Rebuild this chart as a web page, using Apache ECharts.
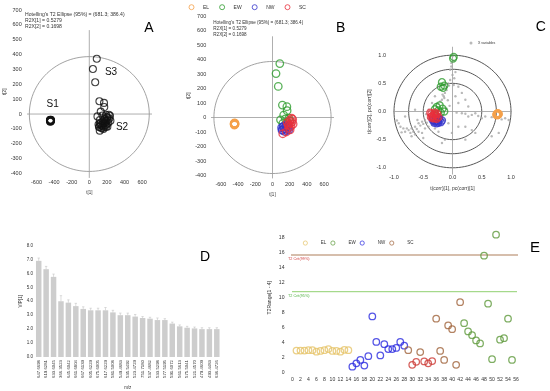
<!DOCTYPE html>
<html><head><meta charset="utf-8">
<script src="https://cdn.jsdelivr.net/npm/echarts@6/dist/echarts.min.js"></script>
<style>html,body{margin:0;padding:0;background:#fff}#c{width:550px;height:391px}</style>
</head><body><div id="c"></div><script>
// ---------- DATA ----------
const groups = ['EL', 'EW', 'NW', 'SC'];
// Panel A/B : PCA scores t[1], t[2]
const scoresEL = [[-445,-48],[-440,-42],[-436,-46],[-442,-40],[-447,-44],[-438,-50],[-443,-38],[-435,-43],[-441,-47],[-446,-41],[-439,-45],[-444,-52],[-437,-39],[-442,-44]];
const scoresEW = [[85,372],[41,303],[67,214],[115,86],[167,75],[170,47],[130,16],[93,-16],[175,-35],[150,-10],[205,-25],[120,-40],[190,-5]];
const scoresNW = [[105,-70],[115,-85],[130,-60],[150,-80],[165,-90],[180,-75],[140,-95],[120,-65],[160,-65],[175,-60],[190,-85],[135,-75],[155,-55],[110,-88]];
const scoresSC = [[222,-5],[235,-12],[200,-20],[210,-40],[190,-45],[228,-30],[182,-55],[215,-60],[195,-70],[170,-35],[240,-45],[205,-85],[119,-112],[160,-100]];
const hotellingT2 = [681.3, 386.4];
const r2x = [0.5279, 0.1698];
// Panel C : correlation-scaled biplot
const corrEL = [[0.77,-0.05],[0.76,-0.04],[0.78,-0.06],[0.77,-0.03],[0.75,-0.05],[0.79,-0.05],[0.76,-0.07],[0.78,-0.04],[0.77,-0.06],[0.76,-0.05],[0.78,-0.05],[0.77,-0.04],[0.75,-0.06],[0.79,-0.04]];
const corrEW = [[0.02,0.97],[0.01,0.94],[-0.18,0.52],[-0.2,0.44],[-0.14,0.46],[-0.16,0.42],[-0.27,0.08],[-0.22,0.11],[-0.17,0.05],[-0.24,0.02],[-0.14,0.0],[-0.2,-0.02],[-0.3,0.04]];
const corrNW = [[-0.3,-0.18],[-0.26,-0.17],[-0.22,-0.15],[-0.32,-0.16],[-0.2,-0.19],[-0.28,-0.14],[-0.24,-0.2],[-0.34,-0.15],[-0.27,-0.21],[-0.18,-0.16],[-0.31,-0.2],[-0.23,-0.12],[-0.29,-0.17],[-0.25,-0.18]];
const corrSC = [[-0.38,-0.02],[-0.35,-0.08],[-0.32,-0.05],[-0.3,-0.12],[-0.28,-0.08],[-0.34,-0.12],[-0.26,-0.04],[-0.36,-0.04],[-0.3,-0.02],[-0.24,-0.1],[-0.33,-0.09],[-0.29,-0.05],[-0.37,-0.1],[-0.27,-0.13]];
const xVariables = [[0.00,0.98],[-0.02,0.86],[-0.04,0.74],[0.00,0.65],[0.03,0.59],[-0.04,0.56],[-0.07,0.50],[0.02,0.47],[-0.10,0.43],[-0.06,0.46],[-0.10,0.38],[-0.13,0.33],[-0.15,0.27],[-0.18,0.21],[-0.14,0.24],[-0.21,0.18],[-0.24,0.14],[-0.17,0.30],[-0.35,-0.06],[-0.41,-0.12],[-0.47,-0.15],[-0.52,-0.18],[-0.58,-0.21],[-0.64,-0.27],[-0.70,-0.30],[-0.75,-0.33],[-0.81,-0.36],[-0.87,-0.37],[-0.67,-0.36],[-0.72,-0.38],[-0.78,-0.30],[-0.61,-0.31],[-0.55,-0.25],[-0.50,-0.22],[-0.44,-0.20],[-0.84,-0.30],[-0.89,-0.27],[-0.92,-0.21],[-0.95,-0.16],[-0.58,-0.36],[-0.64,-0.41],[-0.52,-0.38],[-0.47,-0.30],[-0.41,-0.27],[-0.35,-0.24],[-0.30,-0.30],[-0.24,-0.36],[-0.50,-0.47],[-0.70,-0.44],[0.07,-0.02],[0.16,-0.03],[0.22,-0.04],[0.33,-0.06],[0.44,-0.08],[0.56,-0.09],[0.67,-0.10],[0.79,-0.11],[0.90,-0.12],[0.96,-0.15],[0.84,-0.14],[0.73,-0.06],[0.50,-0.12],[0.39,-0.03],[0.27,-0.09],[0.22,0.21],[0.16,0.33],[0.27,0.09],[0.10,0.15],[-0.13,-0.50],[-0.01,-0.38],[0.10,-0.27],[0.22,-0.50],[0.39,-0.38],[-0.35,0.15],[-0.30,0.27],[-0.41,0.03],[-0.64,0.03],[-0.81,-0.09],[0.10,0.44],[0.05,0.27],[-0.13,-0.15],[-0.18,-0.09],[-0.07,-0.21],[0.22,-0.27],[0.33,-0.33],[-0.18,-0.56],[0.67,-0.44],[0.79,-0.38],[-0.05,0.10],[-0.10,0.05],[-0.08,0.20],[0.05,0.70],[-0.02,0.80],[0.02,0.90],[-0.25,0.00],[-0.30,-0.10],[-0.45,-0.05],[-0.60,-0.15]];
const corrCircles = [1.0, 0.75, 0.5];
// Panel D : VIP
const vipLabels = ['647.6698','619.6281','633.6045','366.3523','645.6042','661.6804','667.6139','605.6229','675.6005','617.6229','581.5008','549.4683','535.5492','523.4729','751.7180','537.4682','533.5298','577.5195','591.6072','561.5613','575.5041','521.4570','479.4609','493.4483','636.4726'];
const vipValues = [6.9,6.3,5.75,4.0,3.9,3.65,3.45,3.35,3.35,3.35,3.2,3.0,3.0,2.9,2.8,2.75,2.65,2.65,2.4,2.2,2.1,2.05,2.0,2.0,2.0];
const vipErrors = [0.2,0.2,0.2,0.4,0.2,0.2,0.15,0.15,0.15,0.2,0.15,0.15,0.15,0.15,0.1,0.1,0.15,0.1,0.1,0.1,0.1,0.1,0.1,0.1,0.1];
// Panel E : T2Range[1 - 4] per observation
const t2ELObs = [1,2,3,4,5,6,7,8,9,10,11,12,13,14];
const t2EL = [2.95,2.95,2.95,3.0,3.0,2.8,2.9,3.0,3.15,2.9,2.9,2.8,3.05,3.0];
const t2NWObs = [15,16,17,18,19,20,21,22,23,24,25,26,27,28];
const t2NW = [0.8,1.25,1.7,0.95,2.2,7.5,4.1,2.3,3.8,3.15,3.15,3.3,4.1,3.6];
const t2SCObs = [29,30,31,32,33,34,35,36,37,38,39,40,41,42];
const t2SC = [3.0,1.05,1.45,2.75,1.5,1.25,1.55,7.2,2.9,1.7,6.3,5.8,1.05,9.4];
const scRedObs = [30,31,33,34,35];
const t2EWObs = [43,44,45,46,47,48,49,50,51,52,53,54,55];
const t2EW = [6.6,5.5,5.0,4.3,3.9,15.6,9.2,1.8,18.4,4.4,4.6,7.2,1.7];
const t2Crit99 = 15.7, t2Crit95 = 10.8;
const xTicksA = [-600,-400,-200,0,200,400,600];

// ---------- STYLE ----------
const FONT = 'Liberation Sans, Arial, sans-serif';
const colB = {EL:'#f5a04a', EW:'#2f9e2f', NW:'#3535cc', SC:'#e8303c'};
const colE = {EL:'#e6c46a', EW:'#5f9a3c', NW:'#2a2ae0', SC:'#a0643c'};
const scRed = '#cc3a34';
const hollow = (c, bw) => ({color:'rgba(0,0,0,0)', borderColor:c, borderWidth:bw});
const lbl = (size, extra) => Object.assign({fontSize:size, color:'#333', fontFamily:FONT}, extra||{});
const noLine = {axisLine:{show:false}, axisTick:{show:false}, splitLine:{show:false}};

function ellipseRender(rx, ry, stroke, lw) {
  return function (params, api) {
    const c = api.coord([api.value(0), api.value(1)]);
    const s = api.size([rx, ry]);
    const pts = [];
    for (let i = 0; i <= 120; i++) {
      const a = i / 120 * 2 * Math.PI;
      pts.push([c[0] + s[0] * Math.cos(a), c[1] + s[1] * Math.sin(a)]);
    }
    return {type:'polyline', shape:{points:pts}, style:{fill:null, stroke:stroke, lineWidth:lw}, silent:true};
  };
}
function crossLine(data, xi, color, w) {
  return {type:'line', xAxisIndex:xi, yAxisIndex:xi, data:data, symbol:'none', clip:false, silent:true,
          lineStyle:{color:color, width:w}, z:1};
}
const dataSets = {EL:scoresEL, EW:scoresEW, NW:scoresNW, SC:scoresSC};
const corrSets = {EL:corrEL, EW:corrEW, NW:corrNW, SC:corrSC};
const t2Sets = {EL:[t2ELObs,t2EL], EW:[t2EWObs,t2EW], NW:[t2NWObs,t2NW], SC:[t2SCObs,t2SC]};

const series = [];
// ---- A ----
series.push({type:'custom', xAxisIndex:0, yAxisIndex:0, data:[[0,0]], renderItem:ellipseRender(hotellingT2[0], hotellingT2[1], '#8a8a8a', 0.8), z:1});
series.push(crossLine([[-790,0],[770,0]], 0, '#9a9a9a', 0.8));
series.push(crossLine([[0,-430],[0,565]], 0, '#9a9a9a', 0.8));
series.push({type:'scatter', xAxisIndex:0, yAxisIndex:0, symbol:'circle', symbolSize:7,
  itemStyle:hollow('#111', 1.1), data:[].concat(scoresEL, scoresEW, scoresNW, scoresSC), z:3});
// ---- B ----
series.push({type:'custom', xAxisIndex:1, yAxisIndex:1, data:[[0,0]], renderItem:ellipseRender(hotellingT2[0], hotellingT2[1], '#8a8a8a', 0.8), z:1});
series.push(crossLine([[-790,0],[740,0]], 1, '#9a9a9a', 0.8));
series.push(crossLine([[0,-420],[0,560]], 1, '#9a9a9a', 0.8));
groups.forEach(g => series.push({name:g, type:'scatter', xAxisIndex:1, yAxisIndex:1, symbol:'circle', symbolSize:7.5,
  itemStyle:hollow(colB[g], 1.3), data:dataSets[g], z:3}));
// ---- C ----
corrCircles.forEach(r => series.push({type:'custom', xAxisIndex:2, yAxisIndex:2, data:[[0,0]], renderItem:ellipseRender(r, r, '#444', 0.9), z:1}));
series.push(crossLine([[-1.07,0],[1.09,0]], 2, '#9a9a9a', 0.8));
series.push(crossLine([[0,-1.12],[0,1.15]], 2, '#9a9a9a', 0.8));
series.push({name:'X variables', type:'scatter', xAxisIndex:2, yAxisIndex:2, symbol:'circle', symbolSize:2.4,
  itemStyle:{color:'#a8a8a8'}, data:xVariables, z:2});
groups.forEach(g => series.push({name:g, type:'scatter', xAxisIndex:2, yAxisIndex:2, symbol:'circle', symbolSize:7,
  itemStyle:hollow(colB[g], 1.3), data:corrSets[g], z:3}));
// ---- D ----
series.push({type:'bar', xAxisIndex:3, yAxisIndex:3, data:vipValues, barCategoryGap:'26%',
  itemStyle:{color:'#cdcdcd'}, silent:true});
series.push({type:'custom', xAxisIndex:3, yAxisIndex:3, data:vipValues.map((v,i)=>[i, v, vipErrors[i]]), z:3,
  renderItem:function(params, api){
    const p0 = api.coord([api.value(0), api.value(1)]);
    const p1 = api.coord([api.value(0), api.value(1) + api.value(2)]);
    return {type:'group', children:[
      {type:'line', shape:{x1:p0[0], y1:p0[1], x2:p1[0], y2:p1[1]}, style:{stroke:'#c4c4c4', lineWidth:0.6}},
      {type:'line', shape:{x1:p1[0]-1.2, y1:p1[1], x2:p1[0]+1.2, y2:p1[1]}, style:{stroke:'#c4c4c4', lineWidth:0.6}}
    ]};
  }});
// ---- E ----
series.push(crossLine([[-2,t2Crit99],[57.5,t2Crit99]], 4, '#c9a891', 1.6));
series.push(crossLine([[-2,t2Crit95],[57.5,t2Crit95]], 4, '#90d070', 1.0));
groups.forEach(g => {
  const [obs, vals] = t2Sets[g];
  series.push({name:g, type:'scatter', xAxisIndex:4, yAxisIndex:4, symbol:'circle', symbolSize:6.5,
    itemStyle:hollow(colE[g], 1.3),
    data:obs.map((o,i)=> (g==='SC' && scRedObs.indexOf(o)>=0)
      ? {value:[o, vals[i]], itemStyle:hollow(scRed, 1.3)} : [o, vals[i]]), z:3});
});

const legendItem = (cols, g, bw) => ({name:g, itemStyle:hollow(cols[g], bw)});
const hotText = "Hotelling's T2 Ellipse (95%) = (" + hotellingT2[0] + "; " + hotellingT2[1] + ")";

const option = {
  animation:false,
  textStyle:{fontFamily:FONT},
  grid:[
    {left:27.7, top:10.05, width:123.2, height:163.4},
    {left:212.3, top:16, width:120.4, height:159.5},
    {left:394, top:55.2, width:117, height:112.6},
    {left:35, top:245.5, width:185.5, height:112.8},
    {left:292.5, top:222.7, width:223.5, height:150}
  ],
  xAxis:[
    Object.assign({gridIndex:0, type:'value', min:-700, max:700, interval:100, name:'t[1]', nameLocation:'middle', nameGap:17, nameTextStyle:lbl(4.5),
      axisLabel:lbl(5.5, {margin:6, formatter:v => xTicksA.indexOf(v)>=0 ? String(v) : ''})}, noLine),
    Object.assign({gridIndex:1, type:'value', min:-700, max:700, interval:100, name:'t[1]', nameLocation:'middle', nameGap:17, nameTextStyle:lbl(4.5),
      axisLabel:lbl(5.5, {margin:6, formatter:v => xTicksA.indexOf(v)>=0 ? String(v) : ''})}, noLine),
    Object.assign({gridIndex:2, type:'value', min:-1, max:1, interval:0.5, name:'t(corr)[1], pc(corr)[1]', nameLocation:'middle', nameGap:18, nameTextStyle:lbl(5),
      axisLabel:lbl(5.5, {margin:7, formatter:v => v.toFixed(1)})}, noLine),
    Object.assign({gridIndex:3, type:'category', data:vipLabels, name:'m/z', nameLocation:'middle', nameGap:28, nameTextStyle:lbl(4.5),
      axisLabel:lbl(4.3, {rotate:90, interval:0, margin:3})}, noLine),
    Object.assign({gridIndex:4, type:'value', min:0, max:56, interval:2,
      axisLabel:lbl(5.1, {margin:4})}, noLine)
  ],
  yAxis:[
    Object.assign({gridIndex:0, type:'value', min:-400, max:700, interval:100, name:'t[2]', nameLocation:'middle', nameGap:19, nameTextStyle:lbl(4.5),
      axisLabel:lbl(5.5, {margin:6})}, noLine),
    Object.assign({gridIndex:1, type:'value', min:-400, max:700, interval:100, name:'t[2]', nameLocation:'middle', nameGap:19, nameTextStyle:lbl(4.5),
      axisLabel:lbl(5.5, {margin:6})}, noLine),
    Object.assign({gridIndex:2, type:'value', min:-1, max:1, interval:0.5, name:'t(corr)[2], pc(corr)[2]', nameLocation:'middle', nameGap:20, nameTextStyle:lbl(5),
      axisLabel:lbl(5.5, {margin:8, formatter:v => v.toFixed(1)})}, noLine),
    Object.assign({gridIndex:3, type:'value', min:0, max:8, interval:1, name:'VIP[1]', nameLocation:'middle', nameGap:11, nameTextStyle:lbl(4.5),
      axisLabel:lbl(4.5, {margin:2, formatter:v => v.toFixed(1)})}, noLine),
    Object.assign({gridIndex:4, type:'value', min:0, max:20, interval:2, name:'T2Range[1 - 4]', nameLocation:'middle', nameGap:20, nameTextStyle:lbl(5),
      axisLabel:lbl(5.1, {margin:8, formatter:v => v > 18 ? '' : String(v)})}, noLine)
  ],
  legend:[
    {left:188.5, top:4.2, orient:'horizontal', icon:'circle', itemWidth:13, itemHeight:5, itemGap:10, padding:0,
     textStyle:lbl(5), data:groups.map(g => legendItem(colB, g, 1))},
    {left:469.5, top:41, icon:'circle', itemWidth:4, itemHeight:3, itemGap:4, padding:0,
     textStyle:lbl(3.5), data:[{name:'X variables', itemStyle:{color:'#a8a8a8'}}]},
    {left:302.8, top:240.5, orient:'horizontal', icon:'circle', itemWidth:21, itemHeight:4.2, itemGap:4, padding:0,
     textStyle:lbl(4.5), data:groups.map(g => legendItem(colE, g, 0.9))}
  ],
  graphic:[
    {type:'text', x:25, y:14.3, style:{text:hotText, fontSize:5.1, fill:'#333', fontFamily:FONT, verticalAlign:'middle'}},
    {type:'text', x:25, y:20.3, style:{text:'R2X[1] = ' + r2x[0].toFixed(4), fontSize:5.1, fill:'#333', fontFamily:FONT, verticalAlign:'middle'}},
    {type:'text', x:25, y:26.3, style:{text:'R2X[2] = ' + r2x[1].toFixed(4), fontSize:5.1, fill:'#333', fontFamily:FONT, verticalAlign:'middle'}},
    {type:'text', x:213.3, y:22.7, style:{text:hotText, fontSize:4.6, fill:'#333', fontFamily:FONT, verticalAlign:'middle'}},
    {type:'text', x:213.3, y:28.5, style:{text:'R2X[1] = ' + r2x[0].toFixed(4), fontSize:4.6, fill:'#333', fontFamily:FONT, verticalAlign:'middle'}},
    {type:'text', x:213.3, y:34.3, style:{text:'R2X[2] = ' + r2x[1].toFixed(4), fontSize:4.6, fill:'#333', fontFamily:FONT, verticalAlign:'middle'}},
    {type:'text', x:52.7, y:104, style:{text:'S1', fontSize:10, fill:'#111', fontFamily:FONT, align:'center', verticalAlign:'middle'}},
    {type:'text', x:111, y:72, style:{text:'S3', fontSize:10, fill:'#111', fontFamily:FONT, align:'center', verticalAlign:'middle'}},
    {type:'text', x:122, y:127.5, style:{text:'S2', fontSize:10, fill:'#111', fontFamily:FONT, align:'center', verticalAlign:'middle'}},
    {type:'text', x:149, y:27.7, style:{text:'A', fontSize:14, fill:'#000', fontFamily:FONT, align:'center', verticalAlign:'middle'}},
    {type:'text', x:340.7, y:27.7, style:{text:'B', fontSize:14, fill:'#000', fontFamily:FONT, align:'center', verticalAlign:'middle'}},
    {type:'text', x:540.7, y:26.7, style:{text:'C', fontSize:14, fill:'#000', fontFamily:FONT, align:'center', verticalAlign:'middle'}},
    {type:'text', x:205, y:257, style:{text:'D', fontSize:14, fill:'#000', fontFamily:FONT, align:'center', verticalAlign:'middle'}},
    {type:'text', x:535, y:248.3, style:{text:'E', fontSize:15, fill:'#000', fontFamily:FONT, align:'center', verticalAlign:'middle'}},
    {type:'text', x:288, y:259, style:{text:'T2 Crit(99%)', fontSize:3.8, fill:'#d04040', fontFamily:FONT, verticalAlign:'middle'}},
    {type:'text', x:288, y:296, style:{text:'T2 Crit(95%)', fontSize:3.8, fill:'#50b040', fontFamily:FONT, verticalAlign:'middle'}}
  ],
  series:series
};
const chart = echarts.init(document.getElementById('c'), null, {renderer:'canvas'});
chart.setOption(option);
</script></body></html>
